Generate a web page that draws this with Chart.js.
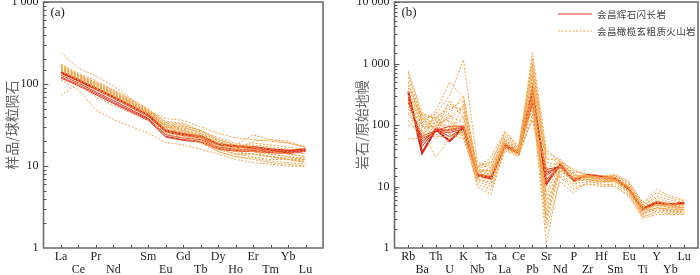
<!DOCTYPE html>
<html><head><meta charset="utf-8">
<script src="https://cdn.jsdelivr.net/npm/chart.js@4.4.0/dist/chart.umd.min.js"></script>
<style>
body{margin:0;background:#fff;}
#wrap{position:relative;width:700px;height:275px;}
.box{position:absolute;top:0;width:350px;height:275px;}
</style></head><body>
<div id="wrap">
<div class="box" style="left:0"><canvas id="cA" width="350" height="275"></canvas></div>
<div class="box" style="left:350px"><canvas id="cB" width="350" height="275"></canvas></div>
</div>
<script>
// (a) REE, chondrite normalised. Pm has a tick but no label/value
const reeElements = ['La','Ce','Pr','Nd','','Sm','Eu','Gd','Tb','Dy','Ho','Er','Tm','Yb','Lu'];
const reeRows     = [0,1,0,1,0,0,1,0,1,0,1,0,1,0,1];
const reeDiorite = [
  [140,112,88,70,null,42,27,24.5,23,18.5,17.5,17,16,15.3,16],
  [135,108,85,67,null,40,26,23.5,22,18,17,16.5,15.5,15,15.8],
  [128,103,80,63,null,38,24,22,21,17,16,16,15,14.8,15.5],
  [122,98,77,60,null,37,23,21,20,16.5,15.5,15.5,14.8,14.5,15.2],
  [118,95,74,58,null,36,22.5,20.5,19.5,16,15.2,15,14.5,14.2,15]
];
const reeVolcanic = [
  [240,156,125,95,null,47,38,36,30,25,22,21,20,19,17],
  [175,135,110,85,null,50,33,31,27,21,18,24,21,20,17],
  [170,130,105,82,null,48,31,29,26,20,17,19,18,17,16],
  [165,128,102,80,null,47,30,28,24,19,16,18,17,16,15],
  [160,125,100,78,null,46,29,27,23,18,15,16,15,14,13],
  [158,122,98,77,null,45,30,30,25,20,17,16,14,13,12],
  [155,120,96,76,null,45,28,26,22,17,15,14,13,12,12],
  [150,118,94,74,null,44,27,25,21,16,14,13,12,12,11],
  [148,116,92,73,null,44,28,26,22,17,14,14,13,12,11.5],
  [145,115,90,72,null,43,32,28,24,19,16,15,13,12.5,12],
  [142,112,88,70,null,42,26,24,20,15,13,12.5,11.5,11,10.5],
  [155,125,100,78,null,46,35,33,27,22,19,17,15,14,13],
  [73,102,85,68,null,40,25,23,20,16,14,14,13,12,11],
  [112,85,48,37,null,25,19.5,18,16,14,12,11,10.5,10,9.8],
  [130,100,70,55,null,36,24,22,19,15,13,12,11,10.5,10],
  [165,130,105,84,null,49,34,32,27,21,18,17,16,15,14],
  [150,120,95,75,null,45,30,27,23,18,16,20,21,19,17],
  [160,128,100,80,null,47,32,30,25,19,16,15,14,13,12.5]
];

// (b) trace elements, primitive mantle normalised
const spiderElements = ['Rb','Ba','Th','U','K','Nb','Ta','La','Ce','Pb','Sr','Nd','P','Zr','Hf','Sm','Eu','Ti','Y','Yb','Lu'];
const spiderRows     = [0,1,0,1,0,1,0,1,0,1,0,1,0,1,0,1,0,1,0,1,0];
const spiderDiorite = [
  [350,35,85,55,92,15.5,13.5,47,35,370,11,22.5,12.5,15.5,14.5,13.5,9,4.3,5.5,5.1,5.4],
  [300,45,85,65,90,15,13.5,45,34,300,13,22,12.8,15.5,14.5,13.5,9,4.4,5.4,5.1,5.3],
  [270,55,80,75,88,15,14,44,35,260,15,22,12.8,15,14,13,9,4.4,5.3,5,5.2],
  [250,60,78,85,92,15.5,14,46,36,240,17,21,13,15,14.5,13.5,9.2,4.5,5.4,5.1,5.3],
  [230,65,82,95,95,16,14.5,48,37,220,19,21,13,15.5,14.5,13.5,9.5,4.5,5.5,5.2,5.4],
  [280,50,88,80,93,15,13.5,47,35,320,16,22.5,12.5,15.5,14.5,14,9.2,4.3,5.5,5.2,5.5]
];
const spiderVolcanic = [
  [750,160,120,180,250,18,17,55,38,1500,40,25,15,14,13,13,10,4.5,6,5,4.5],
  [700,140,100,130,200,16,15,50,36,800,30,24,14,15,14,14,10,4.2,5,4.5,4.5],
  [600,120,150,300,1150,25,20,60,40,600,25,22,13,14,13.5,15,11,5,7,6,5.5],
  [500,110,170,500,280,20,30,80,45,1000,35,28,16,13,12,13,9,3.5,4.5,4,4],
  [400,130,80,250,130,22,25,70,42,900,20,25,19,15,14,16,12,5.5,9,7,6],
  [300,150,130,200,180,17,16,52,37,700,4,20,14,14,13,14,10,4,5,5,4.5],
  [250,100,60,90,100,14,13,45,35,400,3,18,13,13,12,12,8,3.5,4.5,4,4],
  [200,80,30,60,80,10,7.5,40,32,300,2,12,7.8,12,11,10,7,3,3.5,3.5,3.5],
  [180,90,90,150,60,13,12,42,34,250,1.2,15,10,11,10.5,11,7.5,3.2,4,3.8,3.8],
  [150,70,110,120,70,15,14,48,36,200,5,20,12,13,12,12,8.5,3.8,4.6,4.2,4.2],
  [120,60,100,100,65,16,15,46,33,150,8,22,13,14,13,12.5,9,4,5,4.6,4.2],
  [100,80,140,70,60,18,18,50,35,120,10,24,15,15,14,13.5,9.5,4.2,5.2,4.8,4.6],
  [60,60,160,110,75,20,22,55,38,180,3.5,21,14,14.5,13,14,10,4.6,5.8,5.2,5],
  [250,120,70,90,90,12,10,42,33,350,6,16,11,12,11.5,12,8,3.8,4.5,4.3,4.2],
  [350,100,110,160,300,19,18,58,40,500,12,23,17,16,15,15,11,5,6.5,5.5,5],
  [220,95,95,80,140,14,16,50,36,450,2.5,19,14,14,13,13,9.5,4.4,5,4.8,4.5],
  [180,110,120,70,220,17,20,65,42,650,15,26,15,15,14,14,10,4.8,5.5,5,4.8],
  [280,130,85,140,110,13,11,44,34,280,7,18,12,13,12.5,12.5,8.5,3.6,4.2,4,3.8],
  [160,75,65,65,75,11,9,38,31,130,20,14,9,11,10,10,7,3.2,3.8,3.6,3.6],
  [450,145,125,220,160,21,24,75,44,1200,28,27,18,15,14,15,12,5.2,8,6.5,5.8]
];
const legendNames = ['会昌辉石闪长岩','会昌橄榄玄粗质火山岩'];

const RED = '#e5392b', RED_DARK = '#dc2a1e', ORANGE = '#f5a248';
const SERIF = '"Liberation Serif", "DejaVu Serif", serif';
const CJK = '"Noto Sans CJK SC", sans-serif';

function pts(arr) { return arr.map((v,i) => ({x:i, y:v})); }

function makeSets(dio, vol) {
  const sets = [];
  vol.forEach(s => sets.push({data:pts(s), borderColor:ORANGE, borderWidth:1, borderDash:[2,1.6], pointRadius:0, spanGaps:true}));
  dio.forEach((s,i) => sets.push({data:pts(s), borderColor:i===0?RED_DARK:RED, borderWidth:i===0?2.2:1, pointRadius:0, spanGaps:true}));
  return sets;
}

const frame = {
  id: 'frame',
  afterDraw(chart, args, o) {
    const {ctx, chartArea:a, scales:{x, y}} = chart;
    ctx.save();
    ctx.strokeStyle = '#666'; ctx.lineWidth = 1.5;
    ctx.strokeRect(a.left, a.top, a.right-a.left, a.bottom-a.top);
    ctx.lineWidth = 1; ctx.strokeStyle = '#555';
    ctx.beginPath();
    y.ticks.forEach(t => {
      const py = Math.round(y.getPixelForValue(t.value)) + 0.5;
      if (py < a.top || py > a.bottom) return;
      const lg = Math.log10(t.value), major = Math.abs(lg-Math.round(lg)) < 1e-6;
      ctx.moveTo(a.left, py); ctx.lineTo(a.left + (major?5:3), py);
    });
    for (let i = 0; i < o.count; i++) {
      const px = Math.round(x.getPixelForValue(i)) + 0.5;
      ctx.moveTo(px, a.bottom); ctx.lineTo(px, a.bottom-3);
    }
    ctx.stroke();
    ctx.fillStyle = '#222'; ctx.font = '13px ' + SERIF; ctx.textBaseline = 'middle';
    ctx.fillText(o.tag, a.left + 7, 13);
    if (o.legend) {
      ctx.lineWidth = 1.2; ctx.strokeStyle = RED;
      ctx.beginPath(); ctx.moveTo(208,14); ctx.lineTo(242,14); ctx.stroke();
      ctx.strokeStyle = ORANGE; ctx.setLineDash([2,1.6]);
      ctx.beginPath(); ctx.moveTo(208,31); ctx.lineTo(242,31); ctx.stroke();
      ctx.setLineDash([]);
      ctx.fillStyle = '#444'; ctx.font = '9.5px ' + CJK; ctx.letterSpacing = '0.4px';
      ctx.fillText(o.legend[0], 247, 14);
      ctx.fillText(o.legend[1], 247, 31);
    }
    ctx.restore();
  }
};

function build(id, labels, rows, dio, vol, yMax, yTitle, tag, rightPad, yWidth, legend) {
  return new Chart(document.getElementById(id), {
    type: 'line',
    data: {datasets: makeSets(dio, vol)},
    plugins: [frame],
    options: {
      responsive:false, animation:false, devicePixelRatio:1,
      layout: {padding:{top:2, right:rightPad, left:0, bottom:0}},
      plugins: {legend:{display:false}, tooltip:{enabled:false}, frame:{count:labels.length, tag:tag, legend:legend}},
      scales: {
        x: {
          type:'linear', min:-1, max:labels.length,
          grid:{display:false, drawTicks:false}, border:{display:false},
          afterFit: s => { s.height = 27; s.paddingLeft = 0; s.paddingRight = 0; },
          ticks: {
            stepSize:1, autoSkip:false, maxRotation:0, padding:2, color:'#222',
            font:{family:SERIF, size:12, lineHeight:1.1},
            callback: v => {
              if (!Number.isInteger(v) || v < 0 || v >= labels.length || !labels[v]) return '';
              return rows[v] === 0 ? [labels[v], ''] : ['', labels[v]];
            }
          }
        },
        y: {
          type:'logarithmic', min:1, max:yMax,
          grid:{display:false, drawTicks:false}, border:{display:false},
          afterFit: s => { s.width = yWidth; s.paddingTop = 0; s.paddingBottom = 0; },
          title: {display:true, text:yTitle, color:'#666', font:{family:CJK, size:14}, padding:{top:3, bottom:0}},
          ticks: {
            autoSkip:false, padding:5, color:'#222', font:{family:SERIF, size:12},
            callback: v => {
              const lg = Math.log10(v);
              if (Math.abs(lg - Math.round(lg)) > 1e-6) return '';
              return String(Math.round(v)).replace(/\B(?=(\d{3})+(?!\d))/g, ' ');
            }
          }
        }
      }
    }
  });
}

build('cA', reeElements, reeRows, reeDiorite, reeVolcanic, 1000, '样品/球粒陨石', '(a)', 27, 43.5, null);
build('cB', spiderElements, spiderRows, spiderDiorite, spiderVolcanic, 10000, '岩石/原始地幔', '(b)', 2, 44.5, legendNames);
</script>
</body></html>
